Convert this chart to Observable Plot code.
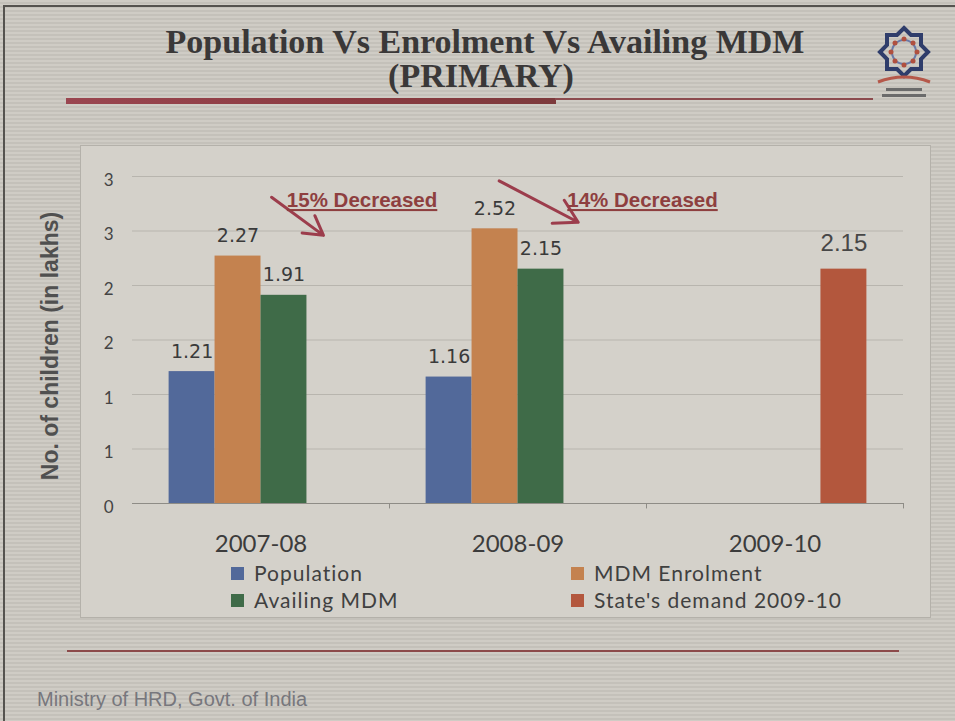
<!DOCTYPE html>
<html><head><meta charset="utf-8">
<script src="https://cdn.jsdelivr.net/npm/d3@7"></script>
<script src="https://cdn.jsdelivr.net/npm/@observablehq/plot@0.6"></script>
<style>
html,body{margin:0;padding:0;background:#c8c5be;}
#slide{position:relative;width:955px;height:721px;overflow:hidden;
  background:repeating-linear-gradient(to bottom,#cfccc5 0px,#cfccc5 2px,#c4c1ba 2px,#c4c1ba 4px);}
.abs{position:absolute;}
#bTop{left:3px;top:5px;width:952px;height:2px;background:#55534f;}
#bLeft{left:3px;top:5px;width:2px;height:716px;background:#55534f;}
#title1,#title2{transform:translateX(-50%);white-space:nowrap;font-family:"Liberation Serif",serif;font-weight:bold;color:#3a3838;font-size:34px;line-height:33px;}
#title1{left:485px;top:25px;}
#title2{left:481px;top:59px;}
#barThick{left:66px;top:98px;width:490px;height:6px;background:linear-gradient(to right,#9a4650,#8a3a40 60%,#7d3a3c);}
#barThin{left:555px;top:98px;width:318px;height:2px;background:#8c4b4e;}
#chartbox{left:80px;top:145px;width:849px;height:471px;background:#d4d1ca;border:1px solid #b4b1aa;}
#chart{left:20px;top:145px;}
#ytitle{left:50px;top:346px;transform:translate(-50%,-50%) rotate(-90deg);white-space:nowrap;font-family:"Liberation Sans",Arial,sans-serif;font-weight:bold;font-size:23px;color:#505050;}
.lg{position:absolute;font-family:Lato,sans-serif;font-size:21px;letter-spacing:1px;color:#404040;white-space:nowrap;line-height:26px;}
.lg span.sw{display:inline-block;width:13px;height:13px;margin-right:10px;vertical-align:1px;}
#footline{left:67px;top:650px;width:832px;height:2px;background:#8c4a4a;}
#footer{left:37px;top:688px;font-family:"Liberation Sans Narrow","Liberation Sans",sans-serif;font-size:20px;color:#77777d;white-space:nowrap;}
</style></head><body>
<div id="slide">
  <div id="bTop" class="abs"></div>
  <div id="bLeft" class="abs"></div>
  <div id="title1" class="abs">Population Vs Enrolment Vs Availing MDM</div>
  <div id="title2" class="abs">(PRIMARY)</div>
  <div id="barThick" class="abs"></div>
  <div id="barThin" class="abs"></div>
  <svg class="abs" style="left:872px;top:24px" width="64" height="78" viewBox="0 0 64 78">
    <g transform="translate(32,28)">
      <polygon points="0,-24 7,-17 17,-17 17,-7 24,0 17,7 17,17 7,17 0,24 -7,17 -17,17 -17,7 -24,0 -17,-7 -17,-17 -7,-17" fill="none" stroke="#2f3d6b" stroke-width="4"/>
      <circle r="12" fill="none" stroke="#6a7aa8" stroke-width="2"/>
      <circle cx="0" cy="-13" r="2.5" fill="#b0503f"/><circle cx="13" cy="0" r="2.5" fill="#b0503f"/>
      <circle cx="0" cy="13" r="2.5" fill="#b0503f"/><circle cx="-13" cy="0" r="2.5" fill="#b0503f"/>
      <circle cx="9" cy="-9" r="2.5" fill="#b0503f"/><circle cx="9" cy="9" r="2.5" fill="#b0503f"/>
      <circle cx="-9" cy="9" r="2.5" fill="#b0503f"/><circle cx="-9" cy="-9" r="2.5" fill="#b0503f"/>
    </g>
    <path d="M6,58 Q32,48 58,58" fill="none" stroke="#b5584a" stroke-width="3"/>
    <rect x="14" y="64" width="36" height="3" fill="#6b6b6b"/>
    <rect x="10" y="70" width="44" height="3" fill="#6b6b6b"/>
  </svg>
  <div id="chartbox" class="abs"></div>
  <div id="chart" class="abs"></div>
  <div id="ytitle" class="abs">No. of children (in lakhs)</div>
  <div id="legend"></div>
  <div id="footline" class="abs"></div>
  <div id="footer" class="abs">Ministry of HRD, Govt. of India</div>
</div>
<script>
// ---- data ----
const categories = ["2007-08", "2008-09", "2009-10"];
const seriesNames = ["Population", "MDM Enrolment", "Availing MDM", "State's demand 2009-10"];
const seriesColors = ["#52699a", "#c4824f", "#3f6b48", "#b3573d"];
const population = [1.21, 1.16, null];
const mdmEnrolment = [2.27, 2.52, null];
const availingMdm = [1.91, 2.15, null];
const stateDemand = [null, null, 2.15];
const yTickValues = [0, 0.5, 1, 1.5, 2, 2.5, 3];
const yTickLabels = ["0", "1", "1", "2", "2", "3", "3"];
// annotations (in data units: slot position within group, value)
const noteCategories = ["2007-08", "2008-09"];
const noteTexts = ["15% Decreased", "14% Decreased"];
const noteX = [4.20, 4.71];
const noteY = [2.78, 2.78];
const arrowX1 = [2.23, 1.59];
const arrowY1 = [2.81, 2.96];
const arrowX2 = [3.36, 3.31];
const arrowY2 = [2.46, 2.58];

// ---- build tables ----
const seriesValues = [population, mdmEnrolment, availingMdm, stateDemand];
const rows = [];
categories.forEach((c, i) => seriesValues.forEach((vals, s) => {
  if (vals[i] != null) rows.push({category: c, series: seriesNames[s], slot: s, value: vals[i]});
}));
const notes = noteCategories.map((c, i) => ({
  category: c, text: noteTexts[i], x: noteX[i], y: noteY[i],
  x1: arrowX1[i], y1: arrowY1[i], x2: arrowX2[i], y2: arrowY2[i]
}));
const slotPad = 0.797;
const xMax = seriesNames.length + slotPad;

const chart = Plot.plot({
  width: 915, height: 475,
  marginLeft: 111, marginRight: 32, marginTop: 31, marginBottom: 117,
  style: {background: "transparent", overflow: "visible", fontFamily: "Lato"},
  fx: {domain: categories, padding: 0, label: null},
  x: {domain: [-slotPad, xMax], axis: null},
  y: {domain: [0, 3], label: null},
  color: {domain: seriesNames, range: seriesColors},
  marks: [
    Plot.ruleY(yTickValues.filter(v => v > 0), {stroke: "#b8b5ae", strokeWidth: 1}),
    Plot.rect(rows, {fx: "category", x1: "slot", x2: d => d.slot + 1, y1: 0, y2: "value", fill: "series"}),
    Plot.ruleY([0], {stroke: "#8e8c86", strokeWidth: 1.2}),
    Plot.ruleX([xMax], {y1: 0, y2: -0.05, stroke: "#8e8c86"}),
    Plot.text(rows.filter(d => d.slot < 3), {
      fx: "category", x: d => d.slot + 0.5, y: "value", text: d => d.value.toFixed(2),
      dy: -20, fontSize: 19, fontFamily: "DejaVu Sans", fill: "#3a3a3a"
    }),
    Plot.text(rows.filter(d => d.slot === 3), {
      fx: "category", x: d => d.slot + 0.5, y: "value", text: d => d.value.toFixed(2),
      dy: -26, fontSize: 24, fontFamily: "Liberation Sans", fill: "#474747"
    }),
    Plot.arrow(notes, {fx: "category", x1: "x1", y1: "y1", x2: "x2", y2: "y2",
      stroke: "#9c3d4c", strokeWidth: 3, headLength: 13}),
    Plot.text(notes, {fx: "category", x: "x", y: "y", text: "text",
      fontSize: 20.5, fontWeight: "bold", fontFamily: "Liberation Sans", fill: "#8e3f3f"}),
    Plot.axisY(yTickValues, {
      tickFormat: d => yTickLabels[yTickValues.indexOf(d)],
      tickSize: 0, tickPadding: 19, fontSize: 17, fontFamily: "Lato", color: "#444", dy: 4, label: null
    }),
    Plot.axisFx({anchor: "bottom", tickSize: 0, tickPadding: 31, fontSize: 24,
      fontFamily: "Lato", color: "#3c3c3c", label: null})
  ]
});
chart.querySelectorAll("text").forEach(t => {
  if (t.textContent.includes("Decreased")) t.setAttribute("text-decoration", "underline");
});
document.getElementById("chart").appendChild(chart);

// ---- legend ----
const legendCols = [231, 571];
const legendRows = [573, 600];
const legend = document.getElementById("legend");
seriesNames.forEach((name, i) => {
  const item = document.createElement("div");
  item.className = "lg";
  item.style.left = legendCols[i % 2] + "px";
  item.style.top = (legendRows[Math.floor(i / 2)] - 13) + "px";
  item.innerHTML = `<span class="sw" style="background:${seriesColors[i]}"></span>`;
  item.appendChild(document.createTextNode(name));
  legend.appendChild(item);
});
</script>
</body></html>
